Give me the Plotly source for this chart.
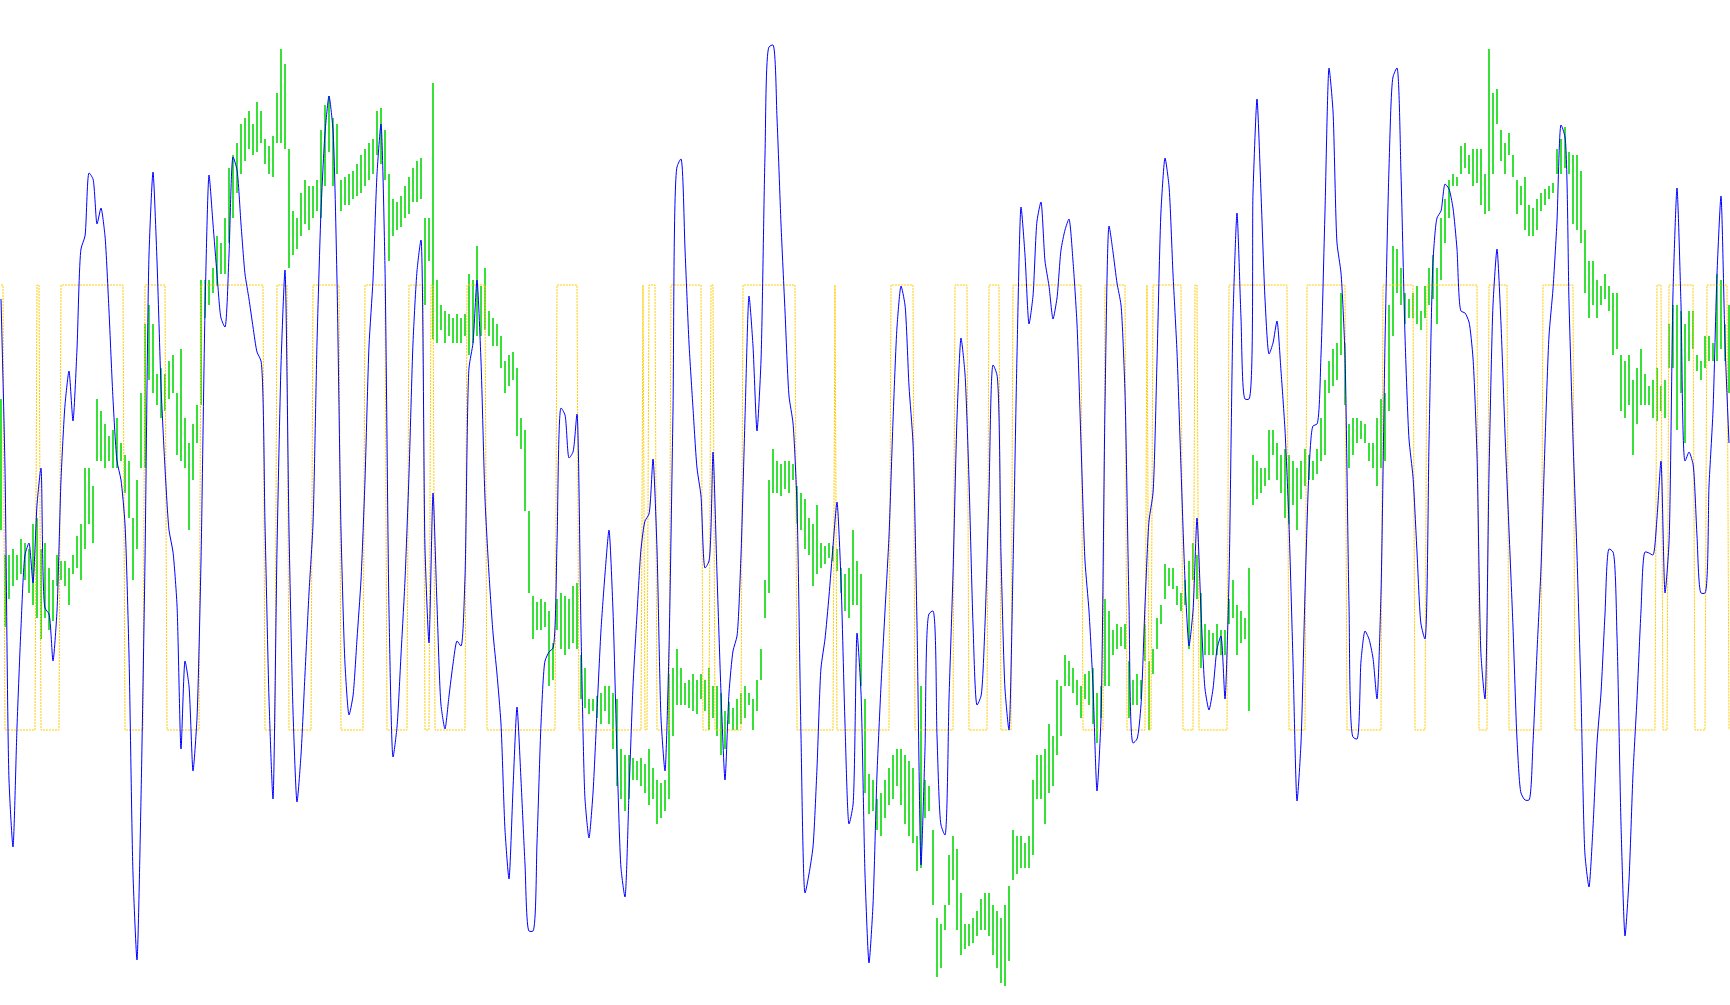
import numpy as np
import plotly.graph_objects as go

# ---------------- data (one sample every 4 px) ----------------
blue_osc = [
    706, 537, 225, 158, 278, 378, 450, 462, 422, 500,
    537, 397, 391, 344, 394, 525, 600, 634, 584, 656,
    756, 769, 832, 826, 781, 797, 769, 694, 606, 544,
    525, 481, 350, 131, 45, 206, 444, 750, 833, 744,
    619, 537, 475, 453, 400, 256, 344, 319, 234, 287,
    444, 694, 830, 781, 731, 687, 678, 750, 848, 835,
    781, 731, 706, 678, 653, 644, 481, 306, 206, 456,
    640, 735, 475, 294, 203, 250, 331, 412, 481, 662,
    794, 872, 909, 875, 725, 475, 341, 290, 309, 366,
    425, 525, 659, 725, 831, 881, 737, 394, 248, 278,
    350, 425, 531, 662, 734, 765, 456, 362, 512, 400,
    300, 276, 309, 341, 364, 359, 428, 637, 662, 725,
    644, 506, 431, 372, 331, 281, 175, 126, 216, 298,
    225, 141, 74, 74, 162, 281, 344, 353, 357, 462,
    597, 590, 547, 553, 591, 375, 206, 167, 212, 294,
    375, 431, 475, 394, 250, 137, 108, 212, 319, 391,
    456, 484, 491, 546, 456, 287, 234, 356, 594, 838,
    846, 756, 662, 597, 537, 509, 437, 444, 553, 431,
    312, 225, 312, 354, 369, 450, 587, 709, 659, 574,
    644, 850, 958, 960, 887, 781, 694, 609, 582, 500,
    269, 112, 131, 158, 237, 337, 366, 409, 459, 503,
    425, 281, 181, 200, 372, 312, 131, 42, 100, 231,
    319, 394, 469, 584, 678, 719, 700, 619, 562, 381,
    140, 256, 391, 394, 269, 180, 170, 306, 431, 587,
    667, 631, 525, 381, 300, 309, 381, 512, 640, 630,
    450, 316, 275, 437, 650, 798, 750, 681, 709, 784,
    803, 744, 719, 686, 707, 755, 775, 786, 744, 681,
    562, 444, 394, 319, 214, 287, 600, 779, 753, 722,
    700, 612, 400, 262, 266, 300, 400, 484, 512, 644,
    794, 847, 819, 731, 653, 537, 425, 359, 394, 487,
    394, 316, 295, 316, 356, 369, 306, 425, 687, 792,
    687, 606, 606, 812, 906, 812, 706, 651, 662, 684,
    634, 575, 481, 344, 204, 262, 412, 534, 579, 581,
    650, 794, 937, 894, 762, 732, 650, 400, 268, 266,
    344, 374, 366, 347, 306, 412, 662, 837, 928, 937,
    831, 669, 566, 528, 453, 381, 366, 562, 744, 787,
    794, 821, 816, 797, 756, 694, 692, 683, 647, 550,
    350, 306, 531, 700, 756, 681, 572, 475, 378, 266,
    212, 205, 205, 262, 353, 437, 562, 669, 716, 784,
    880, 868, 703, 566, 450, 312, 150, 118, 178, 262,
    312, 391, 456, 453, 369, 181, 69, 125, 231, 306,
    394, 453, 452, 450, 487, 544, 412, 462, 712, 817,
    700, 544, 553, 541, 469, 412, 412, 519, 594, 731,
    809, 662, 562,
]

green_low = [
    475, 378, 406, 419, 425, 431, 425, 412, 400, 387,
    366, 387, 375, 384, 419, 425, 419, 400, 431, 437,
    425, 456, 481, 462, 544, 544, 537, 544, 537, 537,
    544, 512, 487, 425, 456, 537, 537, 625, 612, 600,
    587, 594, 606, 612, 550, 544, 537, 475, 525, 562,
    600, 687, 700, 712, 719, 731, 731, 762, 787, 812,
    831, 844, 856, 850, 853, 862, 841, 831, 828, 862,
    862, 856, 737, 750, 756, 769, 781, 775, 787, 794,
    787, 819, 853, 819, 831, 794, 800, 800, 806, 809,
    812, 819, 825, 831, 850, 841, 825, 744, 769, 775,
    778, 787, 791, 803, 803, 806, 700, 744, 666, 662,
    675, 662, 669, 662, 662, 662, 669, 650, 662, 669,
    669, 675, 669, 659, 659, 637, 612, 619, 625, 569,
    556, 494, 412, 366, 375, 375, 378, 319, 325, 375,
    356, 350, 356, 362, 356, 306, 297, 291, 294, 287,
    281, 294, 281, 256, 219, 206, 194, 206, 225, 225,
    219, 212, 200, 206, 181, 187, 194, 206, 269, 300,
    300, 300, 297, 294, 291, 306, 294, 275, 287, 269,
    250, 256, 281, 275, 275, 281, 287, 300, 275, 294,
    325, 387, 412, 512, 512, 509, 516, 512, 525, 481,
    475, 456, 450, 419, 431, 437, 441, 447, 444, 434,
    412, 394, 387, 400, 400, 319, 212, 191, 194, 175,
    169, 187, 200, 206, 219, 200, 181, 169, 162, 134,
    137, 187, 194, 100, 28, 37, 75, 100, 125, 75,
    50, 56, 59, 62, 69, 75, 75, 69, 50, 37,
    22, 19, 44, 125, 131, 137, 137, 137, 150, 206,
    206, 181, 212, 219, 250, 269, 319, 319, 312, 300,
    287, 306, 300, 281, 262, 287, 319, 319, 350, 356,
    359, 356, 287, 300, 300, 306, 344, 275, 331, 356,
    381, 406, 419, 416, 400, 394, 400, 356, 425, 406,
    337, 350, 350, 350, 350, 350, 350, 381, 387, 350,
    362, 366, 294, 500, 506, 512, 519, 525, 550, 525,
    512, 487, 481, 500, 475, 506, 519, 525, 525, 531,
    544, 550, 612, 619, 625, 650, 600, 537, 550, 562,
    566, 562, 544, 537, 519, 537, 544, 594, 669, 712,
    700, 681, 687, 687, 681, 675, 687, 700, 706, 681,
    725, 762, 787, 819, 819, 831, 837, 831, 819, 822,
    800, 791, 794, 831, 881, 844, 831, 850, 828, 791,
    800, 775, 769, 769, 775, 794, 800, 806, 812, 831,
    831, 837, 831, 781, 775, 762, 712, 687, 700, 687,
    700, 706, 694, 650, 656, 594, 587, 600, 550, 581,
    600, 600, 600, 587, 584, 594, 587, 637, 637, 575,
    612, 562, 644, 656, 634, 625, 637, 644, 644, 644,
    656, 644, 612,
]

green_high = [
    606, 450, 450, 456, 450, 466, 462, 456, 481, 487,
    456, 462, 437, 425, 450, 444, 444, 437, 450, 469,
    481, 537, 537, 519, 606, 594, 581, 569, 575, 587,
    562, 550, 544, 487, 525, 612, 681, 700, 681, 631,
    637, 631, 644, 650, 612, 656, 587, 562, 581, 600,
    725, 725, 725, 737, 769, 762, 787, 837, 850, 862,
    881, 887, 894, 881, 903, 894, 866, 859, 869, 912,
    956, 941, 856, 794, 787, 812, 825, 819, 819, 825,
    875, 900, 909, 887, 881, 825, 828, 831, 834, 841,
    850, 856, 862, 866, 894, 897, 875, 831, 806, 803,
    809, 819, 828, 837, 844, 847, 787, 787, 922, 725,
    700, 694, 691, 687, 691, 687, 691, 731, 725, 759,
    719, 737, 694, 687, 681, 669, 644, 650, 653, 637,
    587, 575, 494, 409, 403, 406, 403, 394, 362, 406,
    412, 409, 406, 419, 422, 350, 337, 306, 306, 309,
    312, 319, 319, 312, 306, 256, 250, 250, 247, 244,
    247, 241, 256, 237, 225, 222, 225, 331, 337, 356,
    337, 322, 325, 331, 325, 331, 325, 337, 319, 319,
    312, 294, 303, 297, 306, 312, 319, 312, 306, 325,
    356, 425, 525, 556, 544, 541, 544, 544, 541, 519,
    512, 506, 487, 481, 500, 462, 459, 462, 459, 456,
    437, 431, 437, 475, 444, 431, 306, 231, 225, 206,
    212, 225, 237, 250, 256, 256, 250, 244, 237, 169,
    319, 225, 219, 175, 87, 81, 100, 150, 169, 156,
    112, 81, 81, 87, 94, 106, 112, 112, 100, 94,
    87, 100, 119, 175, 169, 169, 162, 169, 225, 250,
    250, 256, 281, 269, 325, 319, 350, 344, 337, 325,
    319, 331, 334, 337, 312, 319, 406, 394, 375, 381,
    378, 381, 344, 325, 331, 325, 381, 344, 356, 387,
    400, 441, 437, 437, 419, 412, 425, 444, 462, 450,
    412, 381, 375, 372, 381, 375, 375, 406, 425, 400,
    394, 387, 437, 550, 544, 537, 537, 575, 575, 562,
    550, 556, 550, 544, 537, 544, 556, 550, 544, 556,
    587, 625, 644, 656, 662, 712, 662, 581, 587, 587,
    584, 581, 562, 562, 587, 606, 612, 700, 759, 756,
    737, 712, 706, 712, 719, 694, 719, 737, 750, 737,
    787, 806, 825, 831, 828, 859, 862, 850, 856, 856,
    856, 831, 956, 912, 916, 875, 862, 872, 850, 825,
    819, 828, 800, 797, 806, 812, 816, 819, 822, 856,
    866, 878, 853, 850, 850, 834, 775, 744, 744, 725,
    719, 731, 719, 712, 712, 650, 644, 650, 625, 637,
    656, 631, 619, 625, 637, 619, 625, 681, 700, 700,
    694, 681, 694, 694, 650, 644, 669, 669, 662, 731,
    725, 681, 700,
]

# on/off signal: run lengths (in half-steps), alternating, starting on the upper level
signal_runs = [
    2, 16, 2, 10, 32, 10, 11, 17, 32, 6, 6, 12, 14, 12, 11, 11, 8, 3, 2, 16,
    10, 35, 11, 32, 1, 2, 4, 7, 16, 4, 2, 14, 27, 19, 1, 27, 12, 20, 7, 10,
    6, 6, 35, 11, 11, 10, 1, 2, 15, 6, 2, 15, 30, 9, 20, 18, 16, 6, 26, 5,
    10, 17, 16, 41, 3, 3, 13, 6, 11, 1,
]
signal_levels = [720, 275]  # upper, lower

# ---------------- build series ----------------
t = np.arange(len(blue_osc))
low = np.array(green_low)
high = np.array(green_high)

sig = []
state = 0
for r in signal_runs:
    sig += [signal_levels[state]] * r
    state ^= 1
t_sig = np.arange(len(sig)) * 0.5

fig = go.Figure()

fig.add_trace(go.Scatter(
    x=t_sig, y=sig, mode="lines",
    line=dict(color="#FFCC00", width=1, dash="2px,1px"),
    hoverinfo="skip",
))

fig.add_trace(go.Bar(
    x=t, base=low, y=high - low, width=0.45,
    marker=dict(color="rgb(34,221,34)", line=dict(width=0)),
    hoverinfo="skip",
))

fig.add_trace(go.Scatter(
    x=t, y=blue_osc, mode="lines",
    line=dict(color="#0000FF", width=1, shape="spline", smoothing=0.6),
    hoverinfo="skip",
))

fig.update_layout(
    width=1730, height=1005,
    margin=dict(l=0, r=0, t=0, b=0),
    paper_bgcolor="white", plot_bgcolor="white",
    showlegend=False,
    xaxis=dict(range=[-0.25, 432.25], visible=False, fixedrange=True),
    yaxis=dict(range=[0, 1005], visible=False, fixedrange=True),
)

fig.write_html(
    "out.html",
    config={"displayModeBar": False, "staticPlot": True},
    post_script="document.body.style.margin='0';document.body.style.overflow='hidden';",
)
